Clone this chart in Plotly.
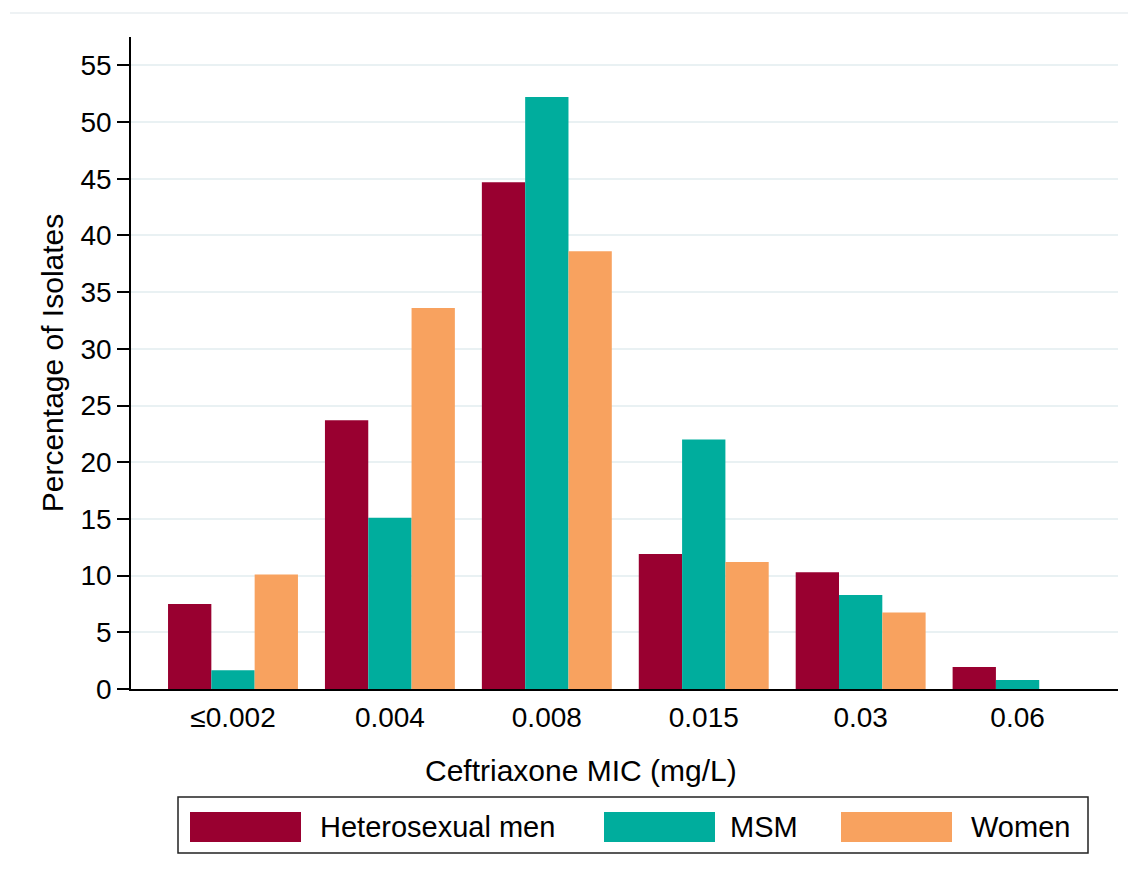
import plotly.graph_objects as go

categories = ["≤0.002", "0.004", "0.008", "0.015", "0.03", "0.06"]
series_names = ["Heterosexual men", "MSM", "Women"]
hetero_men = [7.5, 23.7, 44.7, 11.9, 10.3, 1.95]
msm = [1.65, 15.1, 52.2, 22.0, 8.3, 0.8]
women = [10.1, 33.6, 38.6, 11.2, 6.75, 0.0]
y_ticks = [0, 5, 10, 15, 20, 25, 30, 35, 40, 45, 50, 55]

colors = ["#990030", "#00ad9d", "#f8a25f"]
values = [hetero_men, msm, women]

OFF = 8  # page body margin
W, H = 1136 - OFF, 889 - OFF
L, R, T = 131 - OFF, 18, 37 - OFF
B = H - (689 - OFF)
FONT = "Liberation Sans, Arial, sans-serif"

def px_x(p):
    return (p - OFF - L) / (W - L - R)

def px_y(p):
    return (H - B - (p - OFF)) / (H - B - T)

fig = go.Figure()
for name, vals, col in zip(series_names, values, colors):
    fig.add_trace(go.Bar(x=categories, y=vals, name=name, marker_color=col,
                         marker_line_width=0, showlegend=False))

shapes = []
annotations = []
# faint outer frame
shapes.append(dict(type="line", xref="paper", yref="paper", x0=px_x(10), x1=px_x(1136),
                   y0=px_y(13), y1=px_y(13), line=dict(color="#e9eef0", width=1.5)))
# legend box
shapes.append(dict(type="rect", xref="paper", yref="paper", x0=px_x(178), x1=px_x(1088),
                   y0=px_y(797), y1=px_y(853), line=dict(color="#222222", width=1.5),
                   fillcolor="white"))
sw_x = [190, 604, 841]
txt_x = [318, 728, 969]
for i, name in enumerate(series_names):
    shapes.append(dict(type="rect", xref="paper", yref="paper", x0=px_x(sw_x[i]), x1=px_x(sw_x[i] + 111),
                       y0=px_y(812), y1=px_y(842), line=dict(width=0), fillcolor=colors[i]))
    annotations.append(dict(xref="paper", yref="paper", x=px_x(txt_x[i]), y=px_y(827),
                            xanchor="left", yanchor="middle", text=name, showarrow=False,
                            font=dict(family=FONT, size=29, color="black")))
# x-axis title (offset left of plot centre, as in the original)
annotations.append(dict(xref="paper", yref="paper", x=px_x(581), y=px_y(770),
                        xanchor="center", yanchor="middle", text="Ceftriaxone MIC (mg/L)",
                        showarrow=False, font=dict(family=FONT, size=30, color="black")))

fig.update_layout(
    width=W, height=H,
    margin=dict(l=L, r=R, t=T, b=B, pad=0),
    paper_bgcolor="white", plot_bgcolor="white",
    barmode="group", bargap=0.172, bargroupgap=0,
    font=dict(family=FONT, size=28, color="black"),
    shapes=shapes, annotations=annotations,
    xaxis=dict(type="category", range=[-0.65, 5.64], showgrid=False,
               showline=True, linecolor="black", linewidth=1.5,
               ticks="", ticklabelstandoff=3,
               tickfont=dict(size=28)),
    yaxis=dict(range=[0, 57.5], tickvals=y_ticks, showgrid=True,
               gridcolor="#e9f1f3", gridwidth=2, zeroline=False,
               showline=True, linecolor="black", linewidth=1.5,
               ticks="outside", ticklen=12, tickcolor="black", tickwidth=1.5,
               ticklabelstandoff=0, tickfont=dict(size=28),
               title=dict(text="Percentage of Isolates", font=dict(size=30), standoff=8)),
)

fig.write_html("out.html")
